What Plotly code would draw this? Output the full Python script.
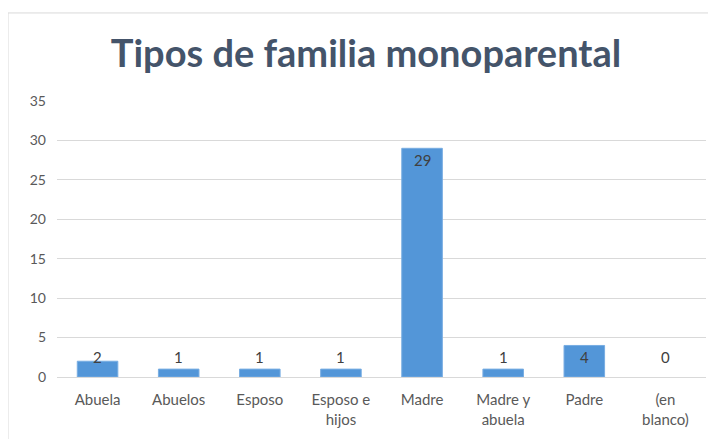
import plotly.graph_objects as go

categories = ["Abuela", "Abuelos", "Esposo", "Esposo e<br>hijos", "Madre", "Madre y<br>abuela", "Padre", "(en<br>blanco)"]
values = [2, 1, 1, 1, 29, 1, 4, 0]
y_ticks = [0, 5, 10, 15, 20, 25, 30, 35]
title_text = "Tipos de familia monoparental"

fig = go.Figure()
fig.add_trace(go.Bar(
    x=categories, y=values,
    marker=dict(color="#5396D8", line=dict(color="#78ADE2", width=[1 if v > 0 else 0 for v in values])),
    width=0.5,
    hoverinfo="skip",
))

for c, v in zip(categories, values):
    fig.add_annotation(
        x=c, y=max(v - 1.52, 2.54), text=str(v), showarrow=False,
        yanchor="middle", xanchor="center",
        font=dict(family="Lato, Carlito, sans-serif", size=15, color="#404040"),
    )

fig.update_layout(
    width=716, height=439,
    margin=dict(l=49, r=18, t=93, b=70),
    paper_bgcolor="white", plot_bgcolor="white",
    showlegend=False,
    title=dict(text="<b>" + title_text + "</b>", x=0.5, xanchor="center", y=0.895, yanchor="middle",
               font=dict(family="Lato, Carlito, sans-serif", size=38, color="#44546A")),
    font=dict(family="Lato, Carlito, sans-serif", size=15, color="#595959"),
    bargap=0.5,
    shapes=[dict(type="rect", xref="paper", yref="paper", x0=-0.0755, x1=1.1, y0=-0.5, y1=1.319,
                 line=dict(color="#D9D9D9", width=1), fillcolor="rgba(0,0,0,0)", layer="below")],
)
fig.update_yaxes(range=[0, 35], tickvals=y_ticks, showgrid=True, gridcolor="#D9D9D9", gridwidth=1,
                 zeroline=False, showline=False, ticks="", ticklabelstandoff=10,
                 tickfont=dict(size=14, color="#595959"))
fig.update_xaxes(showline=True, linecolor="#D9D9D9", ticks="", ticklabelstandoff=9,
                 tickfont=dict(size=15, color="#595959"))

fig.write_html("out.html")
